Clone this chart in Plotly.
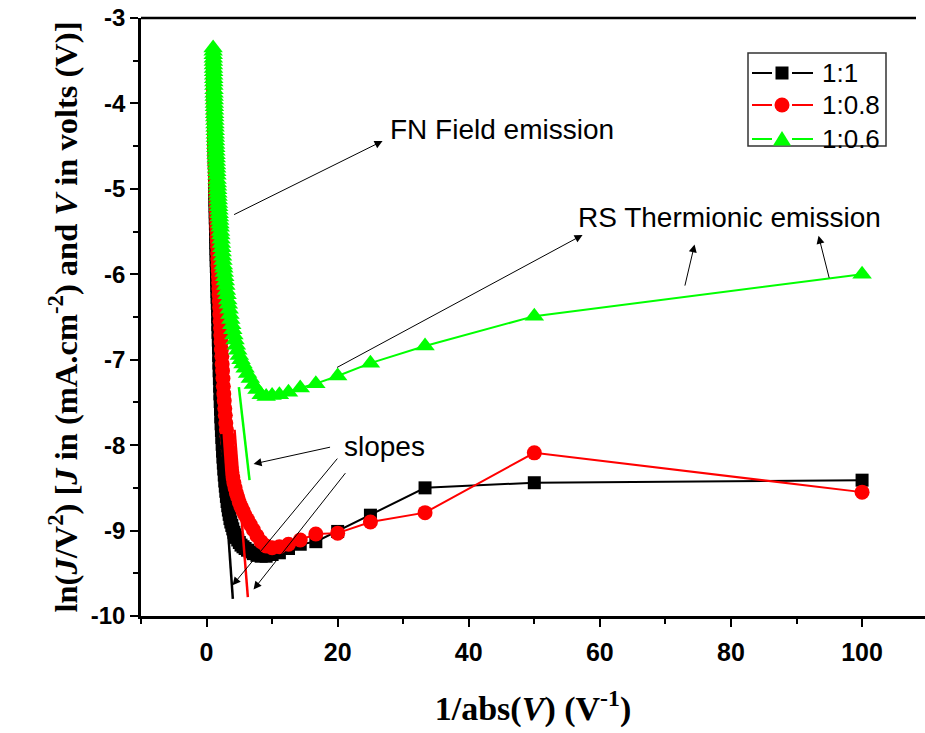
import plotly.graph_objects as go

# 1/abs(V) values (V = 0.01 ... 1.00 V)
inv_v = [100, 50, 33.33, 25, 20, 16.67, 14.29, 12.5, 11.11, 10,
         9.09, 8.33, 7.69, 7.14, 6.67, 6.25, 5.88, 5.56, 5.26, 5.0,
         4.76, 4.55, 4.35, 4.17, 4.0, 3.85, 3.70, 3.57, 3.45, 3.33,
         3.23, 3.13, 3.03, 2.94, 2.86, 2.78, 2.70, 2.63, 2.56, 2.5,
         2.44, 2.38, 2.33, 2.27, 2.22, 2.17, 2.13, 2.08, 2.04, 2.0,
         1.96, 1.92, 1.89, 1.85, 1.82, 1.79, 1.75, 1.72, 1.69, 1.67,
         1.64, 1.61, 1.59, 1.56, 1.54, 1.52, 1.49, 1.47, 1.45, 1.43,
         1.41, 1.39, 1.37, 1.35, 1.33, 1.32, 1.30, 1.28, 1.27, 1.25,
         1.23, 1.22, 1.20, 1.19, 1.18, 1.16, 1.15, 1.14, 1.12, 1.11,
         1.10, 1.09, 1.08, 1.06, 1.05, 1.04, 1.03, 1.02, 1.01, 1.0]

y_1_1 = [-8.41, -8.44, -8.50, -8.82, -9.01, -9.13, -9.16, -9.21, -9.26, -9.28,
         -9.30, -9.30, -9.29, -9.27, -9.25, -9.23, -9.21, -9.19, -9.17, -9.14,
         -9.11, -9.08, -9.05, -9.02, -8.98, -8.94, -8.90, -8.86, -8.81, -8.76,
         -8.71, -8.66, -8.60, -8.54, -8.48, -8.42, -8.35, -8.28, -8.21, -8.14,
         -8.07, -7.99, -7.91, -7.83, -7.75, -7.67, -7.58, -7.49, -7.40, -7.31,
         -7.22, -7.13, -7.04, -6.95, -6.86, -6.77, -6.68, -6.59, -6.50, -6.41,
         -6.34, -6.27, -6.20, -6.13, -6.06, -5.98, -5.91, -5.84, -5.77, -5.70,
         -5.63, -5.56, -5.48, -5.41, -5.34, -5.27, -5.20, -5.13, -5.06, -4.98,
         -4.91, -4.84, -4.77, -4.70, -4.63, -4.56, -4.48, -4.41, -4.34, -4.27,
         -4.20, -4.13, -4.06, -3.98, -3.91, -3.84, -3.77, -3.70, -3.62, -3.55]

y_1_08 = [-8.55, -8.09, -8.79, -8.90, -9.03, -9.04, -9.11, -9.16, -9.19, -9.20,
          -9.18, -9.13, -9.06, -8.99, -8.93, -8.87, -8.82, -8.77, -8.72, -8.67,
          -8.61, -8.56, -8.50, -8.44, -8.38, -8.32, -8.26, -8.19, -8.12, -8.05,
          -7.97, -7.90, -7.82, -7.74, -7.65, -7.57, -7.48, -7.40, -7.31, -7.22,
          -7.13, -7.05, -6.96, -6.88, -6.79, -6.71, -6.63, -6.55, -6.47, -6.39,
          -6.32, -6.24, -6.17, -6.10, -6.03, -5.96, -5.89, -5.82, -5.75, -5.68,
          -5.62, -5.56, -5.50, -5.44, -5.38, -5.32, -5.26, -5.20, -5.14, -5.08,
          -5.03, -4.97, -4.92, -4.86, -4.81, -4.75, -4.70, -4.64, -4.59, -4.53,
          -4.48, -4.43, -4.38, -4.33, -4.28, -4.23, -4.18, -4.13, -4.08, -4.03,
          -3.98, -3.93, -3.88, -3.83, -3.78, -3.73, -3.68, -3.63, -3.58, -3.53]

y_1_06 = [-6.00, -6.49, -6.84, -7.04, -7.19, -7.28, -7.33, -7.38, -7.41, -7.42,
          -7.43, -7.41, -7.35, -7.29, -7.22, -7.16, -7.10, -7.05, -7.00, -6.95,
          -6.89, -6.83, -6.77, -6.71, -6.65, -6.59, -6.53, -6.47, -6.41, -6.35,
          -6.30, -6.24, -6.19, -6.13, -6.08, -6.03, -5.98, -5.93, -5.89, -5.84,
          -5.79, -5.74, -5.69, -5.64, -5.59, -5.54, -5.50, -5.45, -5.41, -5.37,
          -5.33, -5.29, -5.25, -5.21, -5.17, -5.13, -5.09, -5.05, -5.01, -4.97,
          -4.93, -4.89, -4.84, -4.80, -4.76, -4.72, -4.68, -4.64, -4.60, -4.56,
          -4.52, -4.48, -4.44, -4.40, -4.36, -4.32, -4.28, -4.24, -4.20, -4.16,
          -4.12, -4.08, -4.04, -4.00, -3.96, -3.92, -3.88, -3.84, -3.79, -3.75,
          -3.71, -3.67, -3.63, -3.59, -3.55, -3.51, -3.47, -3.43, -3.39, -3.35]

series_names = ["1:1", "1:0.8", "1:0.6"]

# fitted slope segments (x pair, y pair)
slope_black_x = [2.24, 4.01]
slope_black_y = [-7.87, -9.80]
slope_red_x = [4.27, 6.30]
slope_red_y = [-7.82, -9.78]
slope_green_x = [4.93, 6.56]
slope_green_y = [-7.32, -8.41]

x_ticks = [0, 20, 40, 60, 80, 100]
y_ticks = [-3, -4, -5, -6, -7, -8, -9, -10]
y_tick_text = ["-3", "-4", "-5", "-6", "-7", "-8", "-9", "-10"]

SANS = "Liberation Sans, Arial, sans-serif"
SERIF = "Liberation Serif, Times New Roman, serif"
RED = "#ff0000"
GREEN = "#00ff00"

# plot-area geometry (pixels) used for the hand-drawn legend box
L, R, T, B = 141, 925, 18, 616
def px(xp):
    return (xp - L) / (R - L)
def py(yp):
    return (B - yp) / (B - T)

fig = go.Figure()
styles = [("square", 13, "black"), ("circle", 15, RED), ("triangle-up", 17, GREEN)]
for ys, name, (sym, sz, col) in zip([y_1_1, y_1_08, y_1_06], series_names, styles):
    fig.add_trace(go.Scatter(x=inv_v, y=ys, name=name, mode="lines+markers",
                             showlegend=False,
                             line=dict(color=col, width=2),
                             marker=dict(symbol=sym, size=sz, color=col)))

for sx, sy, c in [(slope_black_x, slope_black_y, "black"),
                  (slope_red_x, slope_red_y, RED),
                  (slope_green_x, slope_green_y, GREEN)]:
    fig.add_trace(go.Scatter(x=sx, y=sy, mode="lines", showlegend=False,
                             line=dict(color=c, width=2.5), hoverinfo="skip"))

texts = [("FN Field emission", 45.0, -4.31),
         ("RS Thermionic emission", 79.8, -5.33),
         ("slopes", 27.2, -8.02)]
for t, x, y in texts:
    fig.add_annotation(x=x, y=y, text=t, showarrow=False,
                       font=dict(family=SANS, size=28, color="black"))

# arrows: (tail_x, tail_y, head_x, head_y)
arrows = [(3.97, -5.31, 26.85, -4.44),
          (19.68, -7.10, 57.36, -5.54),
          (72.92, -6.15, 74.45, -5.65),
          (95.04, -6.06, 93.36, -5.55),
          (19.07, -8.02, 7.17, -8.22),
          (20.14, -8.14, 3.97, -9.64),
          (21.36, -8.31, 7.17, -9.69)]
for tx, ty, hx, hy in arrows:
    fig.add_annotation(x=hx, y=hy, ax=tx, ay=ty, xref="x", yref="y",
                       axref="x", ayref="y", text="", showarrow=True,
                       arrowhead=2, arrowsize=1.6, arrowwidth=1, arrowcolor="black",
                       standoff=0, startstandoff=0)

# top frame line
fig.add_shape(type="line", xref="paper", yref="paper", x0=0, x1=px(916), y0=1, y1=1,
              line=dict(color="black", width=2.5))

# legend (drawn by hand to match the original's long line samples)
fig.add_shape(type="rect", xref="paper", yref="paper",
              x0=px(748), x1=px(886), y0=py(146), y1=py(53),
              line=dict(color="#333", width=1.5), fillcolor="white", layer="above")
rows = [73, 105, 139]
for (sym, sz, col), name, ry in zip(styles, series_names, rows):
    for a, b in [(752, 772), (792, 813)]:
        fig.add_shape(type="line", xref="paper", yref="paper", x0=px(a), x1=px(b),
                      y0=py(ry), y1=py(ry), line=dict(color=col, width=2), layer="above")
    cx = 782
    if sym == "square":
        fig.add_shape(type="rect", xref="paper", yref="paper",
                      x0=px(cx - 6.5), x1=px(cx + 6.5), y0=py(ry + 6.5), y1=py(ry - 6.5),
                      fillcolor=col, line=dict(width=0), layer="above")
    elif sym == "circle":
        fig.add_shape(type="circle", xref="paper", yref="paper",
                      x0=px(cx - 7.5), x1=px(cx + 7.5), y0=py(ry + 7.5), y1=py(ry - 7.5),
                      fillcolor=col, line=dict(width=0), layer="above")
    else:
        path = "M %f %f L %f %f L %f %f Z" % (px(cx - 9), py(ry + 6.5), px(cx + 9), py(ry + 6.5),
                                              px(cx), py(ry - 8))
        fig.add_shape(type="path", xref="paper", yref="paper", path=path,
                      fillcolor=col, line=dict(width=0), layer="above")
    fig.add_annotation(x=px(820), y=py(ry), xref="paper", yref="paper", text=name,
                       showarrow=False, xanchor="left", yanchor="middle",
                       font=dict(family=SANS, size=26, color="black"))

fig.update_layout(
    width=925, height=733,
    margin=dict(l=L, r=925 - R, t=T, b=733 - B),
    paper_bgcolor="white", plot_bgcolor="white",
    showlegend=False,
)
fig.update_xaxes(range=[-10, 109.6], showgrid=False, zeroline=False,
                 showline=True, linecolor="black", linewidth=2.5,
                 tickmode="array", tickvals=x_ticks, ticks="outside",
                 ticklen=8, tickwidth=2, tickcolor="black",
                 minor=dict(dtick=10, tick0=0, ticks="outside", ticklen=5, tickwidth=2, tickcolor="black"),
                 tickfont=dict(family=SANS, size=25, color="black", weight="bold"),
                 ticklabelstandoff=4,
                 title=dict(text="1/abs(<i>V</i>) (V<sup>-1</sup>)",
                            font=dict(family=SERIF, size=34, color="black", weight="bold"),
                            standoff=32))
fig.update_yaxes(range=[-10, -3], showgrid=False, zeroline=False,
                 showline=True, linecolor="black", linewidth=2.5,
                 tickmode="array", tickvals=y_ticks, ticktext=y_tick_text, ticks="outside",
                 ticklen=8, tickwidth=2, tickcolor="black",
                 minor=dict(dtick=0.5, tick0=-3, ticks="outside", ticklen=5, tickwidth=2, tickcolor="black"),
                 tickfont=dict(family=SANS, size=24, color="black", weight="bold"),
                 title=dict(text="ln(<i>J</i>/V<sup>2</sup>) [<i>J</i> in (mA.cm<sup>-2</sup>) and <i>V</i> in volts (V)]",
                            font=dict(family=SERIF, size=32.5, color="black", weight="bold"),
                            standoff=4))

fig.write_html("out.html")
